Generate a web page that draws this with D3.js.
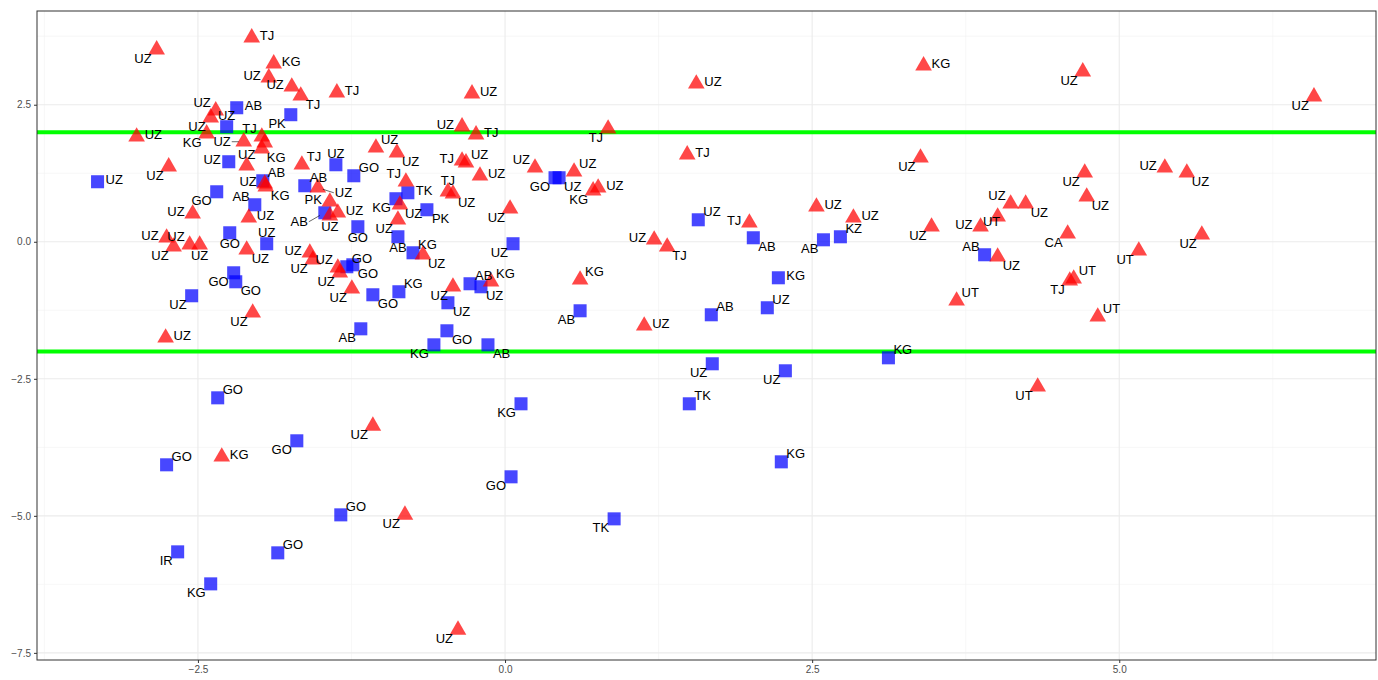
<!DOCTYPE html>
<html>
<head>
<meta charset="utf-8">
<script src="https://cdn.jsdelivr.net/npm/d3@7"></script>
<style>
  body { margin: 0; background: #fff; }
  text { font-family: "Liberation Sans", Arial, sans-serif; }
</style>
</head>
<body>
<div id="viz"></div>
<script>
// ===== DATA =====
// red triangles
const triX = [-2.836, -2.062, -1.883, -1.923, -1.736, -1.663, -1.369, -2.355, -2.396, -2.429,
  -2.999, -2.127, -1.980, -1.956, -1.980, -2.103, -1.654, -2.738, -1.956, -1.948,
  -1.524, -1.426, -1.361, -1.426, -2.543, -2.086, -2.755, -2.698, -2.567, -2.486,
  -2.103, -2.054, -2.763, -1.589, -1.565, -1.361, -1.345, -1.247, -0.269, -0.350,
  -0.236, 0.839, -1.051, -0.880, -0.350, -0.318, -0.204, 0.244, 0.562, 0.717,
  0.758, -0.807, -0.856, -0.872, -0.465, -0.424, 0.041, -0.668, -0.424, -0.114,
  0.611, 1.557, 1.483, 1.989, 2.535, 2.836, 1.214, 1.320, 1.133, 3.407,
  4.703, 6.585, 3.382, 4.719, 5.371, 5.550, 4.735, 4.116, 4.238, 4.010,
  3.871, 3.472, 4.010, 4.580, 5.159, 5.672, 4.597, 4.629, 3.676, 4.825,
  4.336, -2.306, -1.076, -0.815, -0.383];
const triY = [3.504, 3.723, 3.248, 2.993, 2.828, 2.664, 2.719, 2.391, 2.263, 1.971,
  1.916, 1.825, 1.916, 1.807, 1.697, 1.387, 1.405, 1.369, 1.058, 1.004,
  0.985, 0.730, 0.529, 0.474, 0.511, 0.438, 0.073, -0.091, -0.055, -0.055,
  -0.146, -1.296, -1.752, -0.201, -0.328, -0.474, -0.566, -0.858, 2.701, 2.099,
  1.953, 2.062, 1.715, 1.624, 1.478, 1.442, 1.204, 1.350, 1.277, 0.931,
  0.985, 1.095, 0.675, 0.401, 0.912, 0.876, 0.602, -0.237, -0.821, -0.730,
  -0.693, 2.883, 1.588, 0.347, 0.639, 0.438, 0.036, -0.091, -1.533, 3.212,
  3.102, 2.646, 1.533, 1.259, 1.350, 1.259, 0.821, 0.693, 0.693, 0.456,
  0.274, 0.274, -0.274, 0.146, -0.164, 0.128, -0.712, -0.675, -1.077, -1.369,
  -2.646, -3.923, -3.358, -4.982, -7.080];
const triLabel = ['UZ', 'TJ', 'KG', 'UZ', 'UZ', 'TJ', 'TJ', 'UZ', 'UZ', 'KG',
  'UZ', 'UZ', 'TJ', '', 'KG', 'UZ', 'TJ', 'UZ', 'UZ', 'KG',
  'UZ', 'PK', 'UZ', 'UZ', 'UZ', 'UZ', 'UZ', 'UZ', 'UZ', 'UZ',
  'UZ', 'UZ', 'UZ', 'UZ', 'UZ', 'UZ', 'UZ', 'UZ', 'UZ', 'UZ',
  'TJ', 'TJ', 'UZ', 'UZ', 'TJ', 'UZ', 'UZ', 'UZ', 'UZ', 'KG',
  'UZ', 'TJ', 'UZ', 'UZ', 'TJ', 'UZ', 'UZ', 'UZ', 'UZ', 'KG',
  'KG', 'UZ', 'TJ', 'TJ', 'UZ', 'UZ', 'UZ', 'TJ', 'UZ', 'KG',
  'UZ', 'UZ', 'UZ', 'UZ', 'UZ', 'UZ', 'UZ', 'UZ', 'UZ', 'UT',
  'UZ', 'UZ', 'UZ', 'CA', 'UT', 'UZ', 'TJ', 'UT', 'UT', 'UT',
  'UT', 'KG', 'UZ', 'UZ', 'UZ'];
const triLabelSide = ['bl', 'r', 'r', 'l', 'l', 'br', 'r', 'tl', 'bl', 'bl',
  'r', 'lf', 'tl', 'r', 'br', 't', 'tr', 'bl', 'l', 'br',
  'rf', 'l', 'r', 'b', 'l', 'r', 'l', 'bl', 'tl', 'b',
  'br', 'bl', 'r', 'l', 'bl', 'tl', 'bl', 'bl', 'r', 'l',
  'r', 'bl', 'tr', 'br', 'l', 'tr', 'r', 'tl', 'tr', 'bl',
  'r', 'tl', 'br', 'bl', 't', 'br', 'bl', 'br', 'bl', 'tr',
  'tr', 'r', 'r', 'l', 'r', 'r', 'l', 'br', 'r', 'r',
  'bl', 'bl', 'bl', 'bl', 'l', 'br', 'br', 'tl', 'br', 'c',
  'l', 'bl', 'br', 'bl', 'bl', 'bl', 'bl', 'tr', 'tr', 'tr',
  'bl', 'r', 'bl', 'bl', 'bl'];

// blue squares
const sqX = [-2.184, -1.744, -2.266, -2.249, -1.377, -3.317, -1.972, -1.630, -2.347, -2.037,
  -1.467, -2.241, -1.940, -2.209, -2.192, -2.551, -1.288, -1.239, -1.198, -1.231,
  -0.791, -0.888, -0.636, -0.872, -0.749, -1.076, -0.864, -0.465, -0.285, -0.196,
  0.065, 0.611, -1.174, -0.473, -0.579, -0.139, 0.407, 0.440, 1.573, 2.021,
  2.730, 2.592, 2.225, 1.679, 2.135, 1.687, 2.282, 3.121, 1.500, 2.249,
  3.904, -2.339, 0.130, -2.755, -1.695, 0.049, -1.337, 0.888, -1.850, -2.665,
  -2.396];
const sqY = [2.445, 2.318, 2.099, 1.460, 1.405, 1.095, 1.113, 1.022, 0.912, 0.675,
  0.529, 0.164, -0.036, -0.566, -0.730, -0.985, -0.456, -0.420, 0.274, 1.204,
  0.894, 0.785, 0.584, 0.091, -0.201, -0.967, -0.912, -1.113, -0.766, -0.821,
  -0.036, -1.259, -1.588, -1.624, -1.880, -1.880, 1.168, 1.168, 0.401, 0.073,
  0.091, 0.036, -0.657, -1.332, -1.204, -2.226, -2.354, -2.117, -2.956, -4.015,
  -0.237, -2.847, -2.956, -4.069, -3.631, -4.288, -4.982, -5.055, -5.675, -5.657,
  -6.241];
const sqLabel = ['AB', 'PK', 'UZ', 'UZ', 'UZ', 'UZ', 'AB', 'AB', 'GO', 'AB',
  'AB', 'GO', 'UZ', 'GO', 'GO', 'UZ', 'GO', 'GO', 'GO', 'GO',
  'TK', 'KG', 'PK', 'AB', 'KG', 'GO', 'KG', 'UZ', 'AB', 'UZ',
  'UZ', 'AB', 'AB', 'GO', 'KG', 'AB', 'GO', 'UZ', 'UZ', 'AB',
  'KZ', 'AB', 'KG', 'AB', 'UZ', 'UZ', 'UZ', 'KG', 'TK', 'KG',
  'AB', 'GO', 'KG', 'GO', 'GO', 'GO', 'GO', 'TK', 'GO', 'IR',
  'KG'];
const sqLabelSide = ['r', 'bl', 't', 'l', 't', 'r', 'tr', 'tr', 'bl', 'tl',
  'blf', 'b', 't', 'bl', 'br', 'bl', 'tr', 'br', 'b', 'tr',
  'r', 'bl', 'br', 'b', 'tr', 'br', 'tr', 'br', 'tr', 'br',
  'bl', 'bl', 'bl', 'br', 'bl', 'br', 'bl', 'br', 'tr', 'br',
  'tr', 'bl', 'r', 'tr', 'tr', 'bl', 'bl', 'tr', 'tr', 'tr',
  'tl', 'tr', 'bl', 'tr', 'bl', 'bl', 'tr', 'bl', 'tr', 'bl',
  'bl'];

const cutoffs = [2, -2];
const xTicks = [-2.5, 0, 2.5, 5];
const yTicks = [2.5, 0, -2.5, -5, -7.5];

// ===== DIMENSIONS =====
const width = 1378;
const height = 680;
const margin = {top: 11, right: 2, bottom: 20, left: 37};
const innerW = width - margin.left - margin.right;
const innerH = height - margin.top - margin.bottom;

const svg = d3.select('#viz').append('svg')
  .attr('width', width)
  .attr('height', height);

const g = svg.append('g')
  .attr('transform', `translate(${margin.left},${margin.top})`);

// ===== SCALES =====
const x = d3.scaleLinear().domain([-3.81, 7.09]).range([0, innerW]);
const y = d3.scaleLinear().domain([-7.63, 4.21]).range([innerH, 0]);

// ===== GRID =====
const minorX = d3.range(-3.75, 7.1, 2.5);
const minorY = d3.range(-6.25, 4.21, 2.5);
g.append('g').selectAll('line').data(minorX).join('line')
  .attr('x1', d => x(d)).attr('x2', d => x(d)).attr('y1', 0).attr('y2', innerH)
  .attr('stroke', '#f2f2f2').attr('stroke-width', 0.6);
g.append('g').selectAll('line').data(minorY).join('line')
  .attr('y1', d => y(d)).attr('y2', d => y(d)).attr('x1', 0).attr('x2', innerW)
  .attr('stroke', '#f2f2f2').attr('stroke-width', 0.6);
g.append('g').selectAll('line').data(xTicks).join('line')
  .attr('x1', d => x(d)).attr('x2', d => x(d)).attr('y1', 0).attr('y2', innerH)
  .attr('stroke', '#ebebeb').attr('stroke-width', 1.1);
g.append('g').selectAll('line').data(yTicks).join('line')
  .attr('y1', d => y(d)).attr('y2', d => y(d)).attr('x1', 0).attr('x2', innerW)
  .attr('stroke', '#ebebeb').attr('stroke-width', 1.1);

// ===== CUTOFF LINES =====
g.append('g').selectAll('line').data(cutoffs).join('line')
  .attr('x1', 0).attr('x2', innerW)
  .attr('y1', d => y(d)).attr('y2', d => y(d))
  .attr('stroke', '#00ff00').attr('stroke-width', 4);

// ===== POINTS =====
const tris = triX.map((v, i) => ({x: v, y: triY[i], label: triLabel[i], side: triLabelSide[i]}));
const sqs = sqX.map((v, i) => ({x: v, y: sqY[i], label: sqLabel[i], side: sqLabelSide[i]}));

g.append('g').selectAll('path').data(sqs).join('path')
  .attr('d', d3.symbol(d3.symbolSquare, 170))
  .attr('transform', d => `translate(${x(d.x)},${y(d.y)})`)
  .attr('fill', '#0000ff').attr('fill-opacity', 0.72);

g.append('g').selectAll('path').data(tris).join('path')
  .attr('d', d3.symbol(d3.symbolTriangle, 120))
  .attr('transform', d => `translate(${x(d.x)},${y(d.y)})`)
  .attr('fill', '#ff0000').attr('fill-opacity', 0.72);

// label offsets by side: [dx, dy, anchor, leader segment?]
const offs = {
  r: [8, -2, 'start'], l: [-8, -2, 'end'],
  tr: [5, -8, 'start'], tl: [-5, -8, 'end'],
  br: [5, 9, 'start'], bl: [-5, 9, 'end'],
  t: [0, -11, 'middle'], b: [0, 11, 'middle'],
  c: [-6, 5, 'middle'],
  lf: [-13, 0, 'end', true], rf: [17, 5, 'start', true], blf: [-17, 9, 'end', true]
};

const labelled = tris.concat(sqs).filter(d => d.label);

// leader segments (ggrepel style)
g.append('g').selectAll('line').data(labelled.filter(d => offs[d.side][3])).join('line')
  .attr('x1', d => x(d.x) + Math.sign(offs[d.side][0]) * 5)
  .attr('y1', d => y(d.y) + offs[d.side][1] * 0.3)
  .attr('x2', d => x(d.x) + offs[d.side][0] - Math.sign(offs[d.side][0]) * 1)
  .attr('y2', d => y(d.y) + offs[d.side][1])
  .attr('stroke', '#000').attr('stroke-width', 0.6);

g.append('g').selectAll('text').data(labelled).join('text')
  .attr('x', d => x(d.x) + offs[d.side][0])
  .attr('y', d => y(d.y) + offs[d.side][1])
  .attr('text-anchor', d => offs[d.side][2])
  .attr('dominant-baseline', 'central')
  .attr('font-size', 13)
  .attr('fill', '#000')
  .text(d => d.label);

// ===== AXES =====
const xAxis = g.append('g')
  .attr('transform', `translate(0,${innerH})`)
  .call(d3.axisBottom(x).tickValues(xTicks).tickFormat(d3.format('.1f')).tickSize(3).tickSizeOuter(0));
const yAxis = g.append('g')
  .call(d3.axisLeft(y).tickValues(yTicks).tickFormat(d3.format('.1f')).tickSize(3).tickSizeOuter(0));
[xAxis, yAxis].forEach(a => {
  a.select('.domain').remove();
  a.selectAll('line').attr('stroke', '#333');
  a.selectAll('text').attr('fill', '#4d4d4d').attr('font-size', 10);
});

// panel border
g.append('rect')
  .attr('width', innerW).attr('height', innerH)
  .attr('fill', 'none').attr('stroke', '#333').attr('stroke-width', 1);
</script>
</body>
</html>
